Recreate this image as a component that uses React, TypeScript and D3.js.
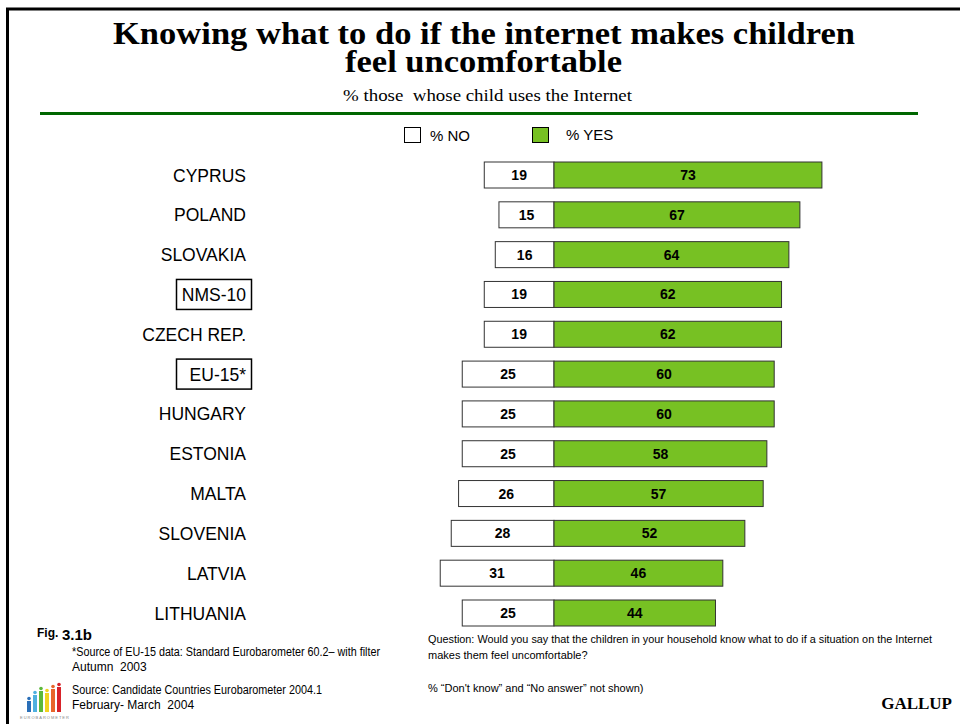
import React from "react";
import * as d3 from "d3";

const categories = [
  "CYPRUS",
  "POLAND",
  "SLOVAKIA",
  "NMS-10",
  "CZECH REP.",
  "EU-15*",
  "HUNGARY",
  "ESTONIA",
  "MALTA",
  "SLOVENIA",
  "LATVIA",
  "LITHUANIA",
];
const noValues = [19, 15, 16, 19, 19, 25, 25, 25, 26, 28, 31, 25];
const yesValues = [73, 67, 64, 62, 62, 60, 60, 58, 57, 52, 46, 44];
const boxedCategories = ["NMS-10", "EU-15*"];
const legendLabels = ["% NO", "% YES"];

const GREEN = "#77C123";
const SANS = "Arial, 'Liberation Sans', sans-serif";
const SERIF = "'Times New Roman', 'Liberation Serif', serif";

export default function App() {
  const x = d3.scaleLinear().domain([0, 100]).range([554, 554 + 367]);
  const w = (v: number) => x(v) - x(0);
  const y = d3.scalePoint<string>().domain(categories).range([175, 613]);
  const barH = 26;

  const logoBars = [
    { c: "#2a6fb8", x: 27, top: 697 },
    { c: "#4fb0e0", x: 33, top: 691 },
    { c: "#5cb83a", x: 39, top: 687 },
    { c: "#f2d21f", x: 45, top: 689 },
    { c: "#e8652a", x: 51, top: 685 },
    { c: "#d8232a", x: 57, top: 683 },
  ];

  return (
    <svg
      width={960}
      height={724}
      style={{ position: "absolute", left: 0, top: 0, background: "#fff" }}
    >
      <rect x={0} y={0} width={960} height={724} fill="#fff" />
      {/* frame */}
      <line x1={6} y1={9} x2={960} y2={9} stroke="#000" strokeWidth={3} />
      <line x1={7.5} y1={9} x2={7.5} y2={724} stroke="#000" strokeWidth={3} />

      {/* title */}
      <text
        x={484}
        y={44}
        textAnchor="middle"
        fontFamily={SERIF}
        fontWeight="bold"
        fontSize={32}
        textLength={742}
        lengthAdjust="spacingAndGlyphs"
      >
        Knowing what to do if the internet makes children
      </text>
      <text
        x={483.5}
        y={72}
        textAnchor="middle"
        fontFamily={SERIF}
        fontWeight="bold"
        fontSize={32}
        textLength={277}
        lengthAdjust="spacingAndGlyphs"
      >
        feel uncomfortable
      </text>
      <text
        x={487.5}
        y={101}
        textAnchor="middle"
        fontFamily={SERIF}
        fontSize={17}
        textLength={289}
        lengthAdjust="spacingAndGlyphs"
        xmlSpace="preserve"
      >
        % those  whose child uses the Internet
      </text>
      <line x1={40} y1={113.5} x2={918} y2={113.5} stroke="#006600" strokeWidth={3} />

      {/* legend */}
      <rect x={404.5} y={127.5} width={16} height={15} fill="#fff" stroke="#000" strokeWidth={1} />
      <text x={430} y={141} fontFamily={SANS} fontSize={15}>
        {legendLabels[0]}
      </text>
      <rect x={532.5} y={127.5} width={16} height={15} fill={GREEN} stroke="#000" strokeWidth={1} />
      <text x={566} y={140} fontFamily={SANS} fontSize={15}>
        {legendLabels[1]}
      </text>

      {/* bars */}
      {categories.map((cat, i) => {
        const cy = y(cat) as number;
        const no = noValues[i];
        const yes = yesValues[i];
        const boxed = boxedCategories.includes(cat);
        return (
          <g key={cat}>
            <rect
              x={x(0) - w(no)}
              y={cy - barH / 2}
              width={w(no)}
              height={barH}
              fill="#fff"
              stroke="#333"
              strokeWidth={1}
            />
            <rect
              x={x(0)}
              y={cy - barH / 2}
              width={w(yes)}
              height={barH}
              fill={GREEN}
              stroke="#333"
              strokeWidth={1}
            />
            <text
              x={x(0) - w(no) / 2}
              y={cy + 5}
              textAnchor="middle"
              fontFamily={SANS}
              fontWeight="bold"
              fontSize={14}
            >
              {no}
            </text>
            <text
              x={x(0) + w(yes) / 2}
              y={cy + 5}
              textAnchor="middle"
              fontFamily={SANS}
              fontWeight="bold"
              fontSize={14}
            >
              {yes}
            </text>
            {boxed && (
              <rect
                x={176.5}
                y={cy - 15}
                width={75}
                height={30}
                fill="none"
                stroke="#000"
                strokeWidth={1.5}
              />
            )}
            <text
              x={246}
              y={cy + 6.5}
              textAnchor="end"
              fontFamily={SANS}
              fontSize={17.5}
            >
              {cat}
            </text>
          </g>
        );
      })}

      {/* footer left */}
      <text x={37} y={637} fontFamily={SANS} fontWeight="bold" fontSize={12}>
        Fig.
      </text>
      <text x={62} y={640} fontFamily={SANS} fontWeight="bold" fontSize={15}>
        3.1b
      </text>
      <text x={72} y={656} fontFamily={SANS} fontSize={12} textLength={308} lengthAdjust="spacingAndGlyphs">
        *Source of EU-15 data: Standard Eurobarometer 60.2– with filter
      </text>
      <text x={72} y={671} fontFamily={SANS} fontSize={12} xmlSpace="preserve">
        Autumn  2003
      </text>
      <text x={72} y={694} fontFamily={SANS} fontSize={12} textLength={250} lengthAdjust="spacingAndGlyphs">
        Source: Candidate Countries Eurobarometer 2004.1
      </text>
      <text x={72} y={709} fontFamily={SANS} fontSize={12} xmlSpace="preserve">
        February- March  2004
      </text>

      {/* logo */}
      {logoBars.map((b) => (
        <g key={b.c}>
          <rect x={b.x} y={b.top + 4} width={4} height={712 - b.top - 4} fill={b.c} />
          <circle cx={b.x + 2} cy={b.top + 1.5} r={1.8} fill={b.c} />
        </g>
      ))}
      <text x={20} y={719} fontFamily={SANS} fontSize={4} fill="#888" letterSpacing={1}>
        EUROBAROMETER
      </text>

      {/* footer right */}
      <text x={428} y={643} fontFamily={SANS} fontSize={11} textLength={504} lengthAdjust="spacingAndGlyphs">
        Question: Would you say that the children in your household know what to do if a situation on the Internet
      </text>
      <text x={428} y={659} fontFamily={SANS} fontSize={11}>
        makes them feel uncomfortable?
      </text>
      <text x={428} y={692} fontFamily={SANS} fontSize={11}>
        % “Don't know” and “No answer” not shown)
      </text>
      <text x={952} y={709} textAnchor="end" fontFamily={SERIF} fontWeight="bold" fontSize={17}>
        GALLUP
      </text>
    </svg>
  );
}
